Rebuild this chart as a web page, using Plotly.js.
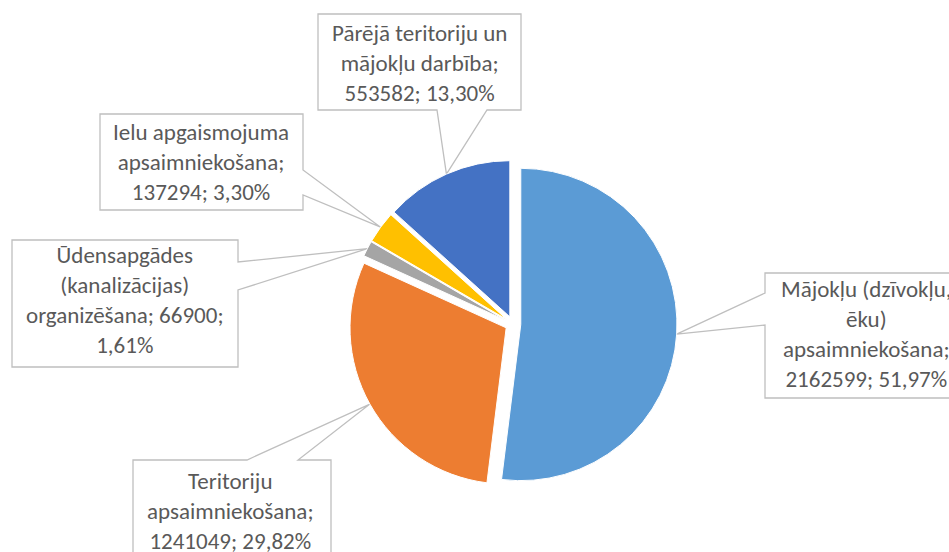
<!DOCTYPE html>
<html>
<head>
<meta charset="utf-8">
<script src="https://cdn.plot.ly/plotly-3.0.1.min.js"></script>
<style>html,body{margin:0;padding:0;background:#fff;}#chart{width:949px;height:552px;}</style>
</head>
<body>
<div id="chart"></div>
<script>
// ---- data ----
var categories = [
  "Mājokļu (dzīvokļu, ēku) apsaimniekošana",
  "Teritoriju apsaimniekošana",
  "Ūdensapgādes (kanalizācijas) organizēšana",
  "Ielu apgaismojuma apsaimniekošana",
  "Pārējā teritoriju un mājokļu darbība"
];
var values = [2162599, 1241049, 66900, 137294, 553582];
var colors = ["#5B9BD5", "#ED7D31", "#A5A5A5", "#FFC000", "#4472C4"];
// label name lines (how the name wraps in each callout)
var nameLines = [
  ["Mājokļu (dzīvokļu,", "ēku)", "apsaimniekošana;"],
  ["Teritoriju", "apsaimniekošana;"],
  ["Ūdensapgādes", "(kanalizācijas)", "organizēšana; {v};"],
  ["Ielu apgaismojuma", "apsaimniekošana;"],
  ["Pārējā teritoriju un", "mājokļu darbība;"]
];

// ---- layout helpers ----
var W = 949, H = 552;
var cxPx = 513, cyPx = 324, Rpx = 164, pull = 0.05;
function px(x) { return x / W; }
function py(y) { return 1 - y / H; }

// callout boxes: [x0, y0, x1, y1], pointer side, base points, text centre
var callouts = [
  {box: [765, 273, 975, 398], side: "left",   base: [293, 325], tc: [866, 334]},
  {box: [133, 460, 331, 562], side: "top",    base: [247, 298], tc: [230, 511]},
  {box: [12, 240, 238, 367],  side: "right",  base: [262, 290], tc: [125, 300]},
  {box: [100, 114, 303, 210], side: "right",  base: [170, 195], tc: [201, 162]},
  {box: [318, 14, 521, 110],  side: "bottom", base: [437, 487], tc: [419, 63]}
];

var total = values.reduce(function (a, b) { return a + b; }, 0);
function fmtPct(v) { return (v / total * 100).toFixed(2).replace(".", ",") + "%"; }

var shapes = [], annotations = [];
var cum = 0;
for (var i = 0; i < values.length; i++) {
  var mid = (cum + values[i] / 2) / total * 2 * Math.PI;
  cum += values[i];
  var tx = cxPx + Rpx * Math.sin(mid), ty = cyPx - Rpx * Math.cos(mid);
  var c = callouts[i], b = c.box, pts;
  if (c.side === "left") {
    pts = [[b[0], b[1]], [b[2], b[1]], [b[2], b[3]], [b[0], b[3]], [b[0], c.base[1]], [tx, ty], [b[0], c.base[0]]];
  } else if (c.side === "right") {
    pts = [[b[0], b[1]], [b[2], b[1]], [b[2], c.base[0]], [tx, ty], [b[2], c.base[1]], [b[2], b[3]], [b[0], b[3]]];
  } else if (c.side === "top") {
    pts = [[b[0], b[1]], [c.base[0], b[1]], [tx, ty], [c.base[1], b[1]], [b[2], b[1]], [b[2], b[3]], [b[0], b[3]]];
  } else {
    pts = [[b[0], b[1]], [b[2], b[1]], [b[2], b[3]], [c.base[1], b[3]], [tx, ty], [c.base[0], b[3]], [b[0], b[3]]];
  }
  var path = pts.map(function (p, k) { return (k === 0 ? "M" : "L") + px(p[0]).toFixed(5) + "," + py(p[1]).toFixed(5); }).join(" ") + " Z";
  shapes.push({type: "path", xref: "paper", yref: "paper", path: path,
    fillcolor: "#FFFFFF", line: {color: "#BFBFBF", width: 1.3}, layer: "below"});

  var lines = nameLines[i].slice();
  var vStr = String(values[i]), pStr = fmtPct(values[i]);
  var last = lines[lines.length - 1];
  if (last.indexOf("{v}") >= 0) {
    lines[lines.length - 1] = last.replace("{v}", vStr);
    lines.push(pStr);
  } else {
    lines.push(vStr + "; " + pStr);
  }
  annotations.push({xref: "paper", yref: "paper", x: px(c.tc[0]), y: py(c.tc[1]),
    xanchor: "center", yanchor: "middle", showarrow: false, align: "center",
    text: lines.join("<br>"),
    font: {family: "Calibri, Carlito, Lato, sans-serif", size: 23, color: "#595959"}});
}

var half = Rpx * 1; // domain half-size in px (outer extent incl. pull)
var trace = {
  type: "pie", labels: categories, values: values, sort: false,
  direction: "clockwise", rotation: 0, pull: pull,
  marker: {colors: colors, line: {color: "#FFFFFF", width: 1}},
  textinfo: "none", hoverinfo: "none", showlegend: false,
  domain: {x: [px(cxPx - half), px(cxPx + half)], y: [py(cyPx + half), py(cyPx - half)]}
};

var layout = {
  width: W, height: H, margin: {l: 0, r: 0, t: 0, b: 0},
  paper_bgcolor: "#FFFFFF", plot_bgcolor: "#FFFFFF",
  showlegend: false, shapes: shapes, annotations: annotations
};
Plotly.newPlot("chart", [trace], layout, {displayModeBar: false, staticPlot: true});
</script>
</body>
</html>
